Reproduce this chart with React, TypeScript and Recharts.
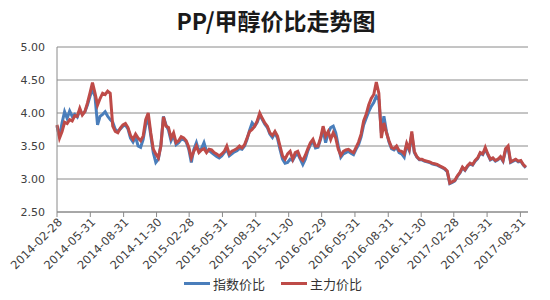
import { LineChart, Line, XAxis, YAxis, CartesianGrid, Legend } from "recharts";

// weekly observations (Fridays)
const dates = [
  "2014-02-28", "2014-03-07", "2014-03-14", "2014-03-21", "2014-03-28", "2014-04-04", "2014-04-11", "2014-04-18",
  "2014-04-25", "2014-05-02", "2014-05-09", "2014-05-16", "2014-05-23", "2014-05-30", "2014-06-06", "2014-06-13",
  "2014-06-20", "2014-06-27", "2014-07-04", "2014-07-11", "2014-07-18", "2014-07-25", "2014-08-01", "2014-08-08",
  "2014-08-15", "2014-08-22", "2014-08-29", "2014-09-05", "2014-09-12", "2014-09-19", "2014-09-26", "2014-10-03",
  "2014-10-10", "2014-10-17", "2014-10-24", "2014-10-31", "2014-11-07", "2014-11-14", "2014-11-21", "2014-11-28",
  "2014-12-05", "2014-12-12", "2014-12-19", "2014-12-26", "2015-01-02", "2015-01-09", "2015-01-16", "2015-01-23",
  "2015-01-30", "2015-02-06", "2015-02-13", "2015-02-20", "2015-02-27", "2015-03-06", "2015-03-13", "2015-03-20",
  "2015-03-27", "2015-04-03", "2015-04-10", "2015-04-17", "2015-04-24", "2015-05-01", "2015-05-08", "2015-05-15",
  "2015-05-22", "2015-05-29", "2015-06-05", "2015-06-12", "2015-06-19", "2015-06-26", "2015-07-03", "2015-07-10",
  "2015-07-17", "2015-07-24", "2015-07-31", "2015-08-07", "2015-08-14", "2015-08-21", "2015-08-28", "2015-09-04",
  "2015-09-11", "2015-09-18", "2015-09-25", "2015-10-02", "2015-10-09", "2015-10-16", "2015-10-23", "2015-10-30",
  "2015-11-06", "2015-11-13", "2015-11-20", "2015-11-27", "2015-12-04", "2015-12-11", "2015-12-18", "2015-12-25",
  "2016-01-01", "2016-01-08", "2016-01-15", "2016-01-22", "2016-01-29", "2016-02-05", "2016-02-12", "2016-02-19",
  "2016-02-26", "2016-03-04", "2016-03-11", "2016-03-18", "2016-03-25", "2016-04-01", "2016-04-08", "2016-04-15",
  "2016-04-22", "2016-04-29", "2016-05-06", "2016-05-13", "2016-05-20", "2016-05-27", "2016-06-03", "2016-06-10",
  "2016-06-17", "2016-06-24", "2016-07-01", "2016-07-08", "2016-07-15", "2016-07-22", "2016-07-29", "2016-08-05",
  "2016-08-12", "2016-08-19", "2016-08-26", "2016-09-02", "2016-09-09", "2016-09-16", "2016-09-23", "2016-09-30",
  "2016-10-07", "2016-10-14", "2016-10-21", "2016-10-28", "2016-11-04", "2016-11-11", "2016-11-18", "2016-11-25",
  "2016-12-02", "2016-12-09", "2016-12-16", "2016-12-23", "2016-12-30", "2017-01-06", "2017-01-13", "2017-01-20",
  "2017-01-27", "2017-02-03", "2017-02-10", "2017-02-17", "2017-02-24", "2017-03-03", "2017-03-10", "2017-03-17",
  "2017-03-24", "2017-03-31", "2017-04-07", "2017-04-14", "2017-04-21", "2017-04-28", "2017-05-05", "2017-05-12",
  "2017-05-19", "2017-05-26", "2017-06-02", "2017-06-09", "2017-06-16", "2017-06-23", "2017-06-30", "2017-07-07",
  "2017-07-14", "2017-07-21", "2017-07-28", "2017-08-04", "2017-08-11", "2017-08-18", "2017-08-25", "2017-09-01",
  "2017-09-08", "2017-09-15",
];

// 指数价比
const indexRatio = [
  3.8, 3.64, 3.85, 4.02, 3.92, 4.03, 3.95, 3.98, 3.94, 4.04, 3.98, 4.02, 4.12, 4.25, 4.36, 4.25,
  3.82, 3.95, 3.98, 4.02, 3.95, 3.9, 3.86, 3.75, 3.72, 3.76, 3.8, 3.82, 3.76, 3.62, 3.56, 3.64,
  3.5, 3.48, 3.6, 3.82, 3.92, 3.66, 3.4, 3.25, 3.3, 3.52, 3.95, 3.82, 3.74, 3.58, 3.66, 3.52,
  3.55, 3.6, 3.6, 3.56, 3.45, 3.25, 3.45, 3.55, 3.42, 3.46, 3.55, 3.42, 3.43, 3.4, 3.37, 3.34,
  3.32, 3.35, 3.4, 3.45, 3.35, 3.38, 3.41, 3.43, 3.46, 3.45, 3.5, 3.6, 3.74, 3.85, 3.8, 3.86,
  3.97, 3.9, 3.83, 3.78, 3.68, 3.63, 3.7, 3.62, 3.45, 3.3, 3.24, 3.25, 3.3, 3.28, 3.35, 3.38,
  3.3, 3.22, 3.3, 3.43, 3.52, 3.57, 3.47, 3.48, 3.6, 3.75, 3.55, 3.7, 3.78, 3.8, 3.7, 3.5,
  3.33, 3.38, 3.4, 3.42, 3.39, 3.37, 3.45, 3.52, 3.64, 3.82, 3.92, 4.02, 4.1, 4.16, 4.25, 4.2,
  3.7, 3.95, 3.72, 3.56, 3.46, 3.44, 3.48, 3.4, 3.38, 3.33, 3.52, 3.43, 3.68, 3.4, 3.33, 3.29,
  3.29, 3.27, 3.26, 3.25, 3.23, 3.22, 3.21, 3.19, 3.17, 3.15, 3.11, 2.93, 2.95, 2.97, 3.04, 3.09,
  3.17, 3.13, 3.19, 3.23, 3.21, 3.27, 3.31, 3.39, 3.37, 3.45, 3.37, 3.29, 3.31, 3.27, 3.29, 3.33,
  3.27, 3.43, 3.47, 3.25, 3.27, 3.29, 3.26, 3.27, 3.21, 3.17,
];

// 主力价比
const mainRatio = [
  3.82, 3.62, 3.72, 3.86, 3.84, 3.9, 3.88, 3.96, 3.95, 4.07, 3.97, 4.02, 4.15, 4.3, 4.46, 4.3,
  4.12, 4.22, 4.3, 4.28, 4.33, 4.3, 3.8, 3.72, 3.7, 3.77, 3.82, 3.84, 3.78, 3.66, 3.6, 3.68,
  3.62, 3.58, 3.65, 3.9, 4.0, 3.7, 3.45, 3.38, 3.32, 3.5, 3.94, 3.8, 3.78, 3.62, 3.7, 3.55,
  3.58, 3.64, 3.62, 3.58, 3.48, 3.32, 3.42, 3.5, 3.4, 3.44, 3.46, 3.4, 3.45, 3.44, 3.4, 3.38,
  3.35, 3.38, 3.42, 3.5, 3.38, 3.42, 3.44, 3.46, 3.5, 3.47, 3.52, 3.62, 3.72, 3.75, 3.8, 3.88,
  4.0, 3.92, 3.85, 3.8, 3.7, 3.66, 3.72, 3.65, 3.5, 3.35, 3.3, 3.38, 3.42, 3.3, 3.4, 3.42,
  3.32, 3.28, 3.36, 3.46, 3.55, 3.6, 3.5, 3.5, 3.62, 3.8, 3.65, 3.72, 3.6, 3.7, 3.62, 3.45,
  3.36, 3.42, 3.44, 3.45, 3.42, 3.4, 3.48, 3.56, 3.68, 3.88, 3.98, 4.12, 4.22, 4.28, 4.47, 4.3,
  3.62, 3.85, 3.7, 3.58, 3.48, 3.46, 3.5, 3.43, 3.42, 3.38, 3.54, 3.45, 3.72, 3.42, 3.34, 3.3,
  3.3, 3.28, 3.27, 3.26, 3.24, 3.23, 3.22, 3.2, 3.18, 3.16, 3.12, 2.94, 2.96, 2.98, 3.05, 3.1,
  3.18, 3.14, 3.2, 3.24, 3.22, 3.28, 3.32, 3.4, 3.38, 3.48, 3.38, 3.3, 3.32, 3.28, 3.3, 3.34,
  3.28, 3.46, 3.5, 3.26, 3.28, 3.3, 3.27, 3.28, 3.22, 3.18,
];

const tickDates = [
  "2014-02-28", "2014-05-31", "2014-08-31", "2014-11-30", "2015-02-28", "2015-05-31", "2015-08-31", "2015-11-30",
  "2016-02-29", "2016-05-31", "2016-08-31", "2016-11-30", "2017-02-28", "2017-05-31", "2017-08-31",
];

const yTicks = [2.5, 3, 3.5, 4, 4.5, 5];

const BLUE = "#4a7ebb";
const RED = "#be4b48";
const FONT = "'DejaVu Sans', Verdana, sans-serif";
const CJK = "'Noto Sans CJK SC', sans-serif";

const data = dates.map((d, i) => ({
  t: Date.parse(d),
  index: indexRatio[i],
  main: mainRatio[i],
}));

const fmtDate = (v: number) => new Date(v).toISOString().slice(0, 10);

const DateTick = (props: any) => {
  const { x, y, payload } = props;
  const px = x + 3;
  const py = y + 1;
  return (
    <text
      x={px}
      y={py}
      dy={4}
      transform={`rotate(-45 ${px} ${py})`}
      textAnchor="end"
      fontSize={11.5}
      fontFamily={FONT}
      fill="#404040"
    >
      {fmtDate(payload.value)}
    </text>
  );
};

const LegendBox = () => (
  <div
    style={{
      display: "flex",
      justifyContent: "center",
      alignItems: "center",
      gap: 16,
      height: 20,
      paddingLeft: 6,
      fontFamily: CJK,
      fontSize: 13,
      color: "#333",
    }}
  >
    {[
      { name: "指数价比", color: BLUE },
      { name: "主力价比", color: RED },
    ].map((s) => (
      <span key={s.name} style={{ display: "flex", alignItems: "center" }}>
        <span style={{ display: "inline-block", width: 26, height: 3, background: s.color, marginRight: 3 }} />
        {s.name}
      </span>
    ))}
  </div>
);

export default function App() {
  return (
    <div style={{ position: "absolute", left: 0, top: 0, width: 550, height: 300, background: "#fff" }}>
      <div
        style={{
          position: "absolute",
          top: 3,
          left: 0,
          width: 552,
          textAlign: "center",
          fontFamily: CJK,
          fontWeight: 700,
          fontSize: 23,
          color: "#1a1a1a",
        }}
      >
        PP/甲醇价比走势图
      </div>
      <LineChart width={550} height={300} data={data} margin={{ top: 47, right: 22, left: 12, bottom: 7 }}>
        <CartesianGrid vertical={false} stroke="#8a8a8a" strokeWidth={1} />
        <XAxis
          dataKey="t"
          type="number"
          scale="time"
          domain={[Date.parse("2014-02-28"), Date.parse("2017-09-21")]}
          ticks={tickDates.map((d) => Date.parse(d))}
          tick={<DateTick />}
          tickSize={5}
          height={61}
          interval={0}
          stroke="#8a8a8a"
        />
        <YAxis
          domain={[2.5, 5]}
          ticks={yTicks}
          width={45}
          tickLine={false}
          tickMargin={6}
          tickFormatter={(v: number) => v.toFixed(2)}
          tick={{ fontSize: 11, fontFamily: FONT, fill: "#404040" }}
          stroke="#8a8a8a"
        />
        <Legend content={<LegendBox />} verticalAlign="bottom" height={20} />
        <Line
          type="linear"
          dataKey="index"
          name="指数价比"
          stroke={BLUE}
          strokeWidth={3}
          dot={false}
          isAnimationActive={false}
        />
        <Line
          type="linear"
          dataKey="main"
          name="主力价比"
          stroke={RED}
          strokeWidth={3}
          dot={false}
          isAnimationActive={false}
        />
      </LineChart>
    </div>
  );
}
